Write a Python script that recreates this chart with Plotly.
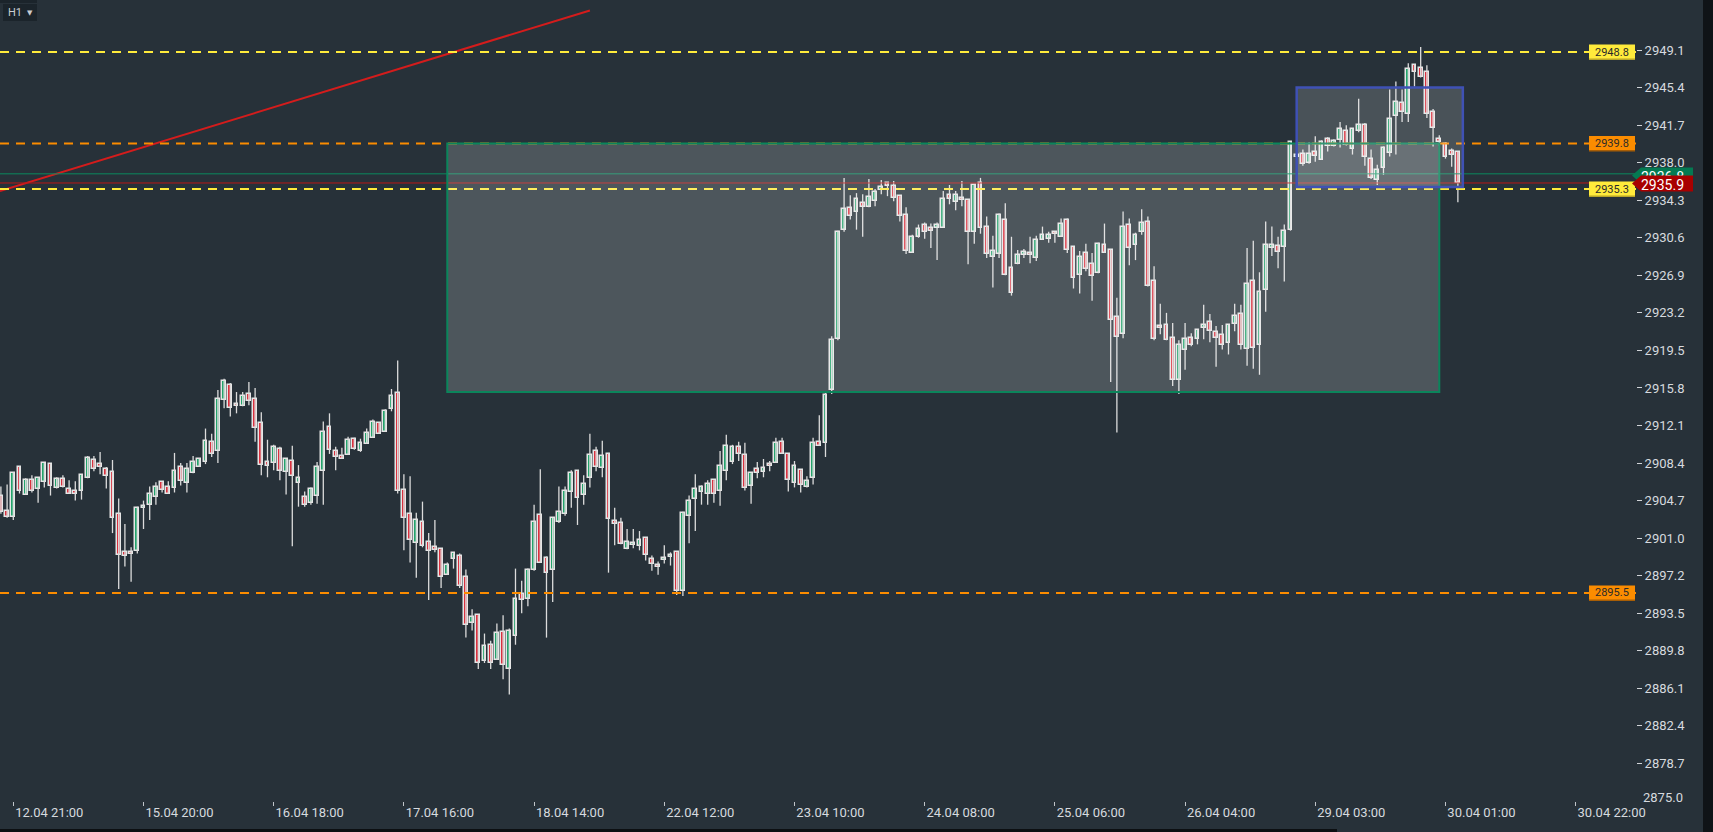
import plotly.graph_objects as go

# ---------------- data (H1 candles) ----------------
OPEN = [2905.1,2903.6,2903.0,2907.9,2905.2,2906.6,2905.7,2906.4,2908.2,2905.8,
        2906.7,2905.7,2905.5,2905.5,2906.8,2908.6,2908.2,2907.7,2907.4,2903.3,
        2899.5,2899.5,2899.6,2903.9,2904.2,2905.0,2906.4,2905.9,2905.8,2907.9,
        2906.3,2907.3,2907.9,2908.4,2910.4,2909.5,2914.5,2916.0,2914.1,2913.9,
        2915.1,2914.6,2912.2,2908.4,2908.3,2909.7,2907.4,2908.5,2906.3,2905.0,
        2904.4,2905.1,2907.5,2911.9,2909.5,2909.0,2909.1,2910.7,2909.5,2910.2,
        2910.8,2912.2,2911.4,2913.6,2915.2,2905.6,2903.3,2900.4,2902.5,2900.5,
        2900.0,2899.8,2897.3,2898.8,2899.1,2897.1,2892.5,2893.3,2888.8,2890.4,
        2888.9,2891.7,2888.0,2891.3,2895.4,2894.9,2897.8,2903.2,2898.9,2897.8,
        2902.5,2903.3,2905.4,2907.5,2905.2,2906.8,2909.5,2907.8,2909.2,2902.6,
        2902.4,2899.8,2900.2,2900.1,2900.9,2898.8,2898.3,2898.7,2899.0,2899.5,
        2895.7,2903.1,2904.8,2905.4,2905.3,2906.6,2905.5,2907.5,2908.4,2909.9,
        2909.1,2906.0,2907.7,2907.4,2908.2,2908.3,2910.4,2909.2,2906.3,2907.6,
        2905.9,2906.8,2910.4,2910.3,2915.5,2920.5,2931.3,2933.4,2933.0,2933.9,
        2933.5,2934.1,2935.2,2935.9,2935.6,2934.6,2932.7,2929.0,2930.6,2931.8,
        2931.5,2931.5,2931.5,2934.7,2934.0,2934.4,2934.2,2931.1,2935.9,2931.6,
        2928.6,2928.9,2932.3,2927.5,2927.9,2928.8,2929.0,2928.5,2930.3,2930.4,
        2931.1,2930.6,2932.3,2929.6,2926.8,2929.0,2927.9,2927.0,2929.8,2929.3,
        2922.7,2921.0,2931.8,2929.8,2931.1,2932.1,2926.2,2921.8,2921.9,2920.6,
        2916.5,2919.4,2920.6,2920.5,2921.6,2922.2,2921.2,2920.9,2920.1,2922.0,
        2923.0,2919.5,2926.2,2919.9,2925.4,2929.5,2929.7,2929.6,2931.3,2938.5,
        2938.8,2937.9,2939.0,2938.2,2940.2,2939.5,2940.1,2941.0,2939.2,2941.0,
        2941.6,2938.3,2936.2,2937.4,2938.9,2942.5,2943.8,2942.7,2947.5,2947.2,
        2946.8,2942.9,2940.2,2939.7,2939.1,2939.0]
HIGH = [2906.0,2906.2,2907.4,2908.0,2906.8,2907.1,2906.8,2908.3,2908.2,2906.9,
        2907.1,2906.6,2906.5,2907.1,2909.0,2909.0,2909.4,2907.9,2908.6,2904.8,
        2902.3,2900.0,2904.0,2904.6,2906.0,2906.4,2906.4,2906.5,2909.3,2908.3,
        2908.3,2909.0,2908.8,2911.7,2911.2,2915.5,2916.6,2916.2,2915.3,2915.3,
        2916.3,2915.7,2913.3,2910.6,2910.1,2909.9,2908.7,2910.0,2908.1,2905.5,
        2905.9,2908.4,2912.4,2913.2,2909.9,2909.8,2910.9,2910.8,2910.7,2911.7,
        2912.6,2912.3,2913.6,2915.6,2918.4,2907.2,2907.0,2903.4,2904.5,2901.4,
        2902.7,2899.8,2898.5,2899.4,2899.4,2897.8,2893.9,2893.3,2891.5,2890.8,
        2892.5,2893.3,2892.0,2897.9,2896.7,2897.9,2904.2,2907.7,2899.1,2902.9,
        2906.0,2906.0,2907.6,2907.5,2907.1,2911.2,2909.9,2910.5,2909.3,2903.9,
        2902.9,2901.8,2901.8,2901.6,2900.9,2899.2,2898.6,2900.2,2899.5,2899.5,
        2903.5,2905.1,2907.2,2906.1,2906.6,2906.6,2909.5,2911.1,2910.1,2910.4,
        2910.3,2907.3,2908.4,2908.7,2908.5,2910.8,2910.8,2909.2,2908.5,2907.6,
        2907.0,2910.8,2913.0,2915.2,2920.8,2931.2,2936.4,2934.7,2934.9,2934.8,
        2936.3,2935.3,2936.2,2935.9,2936.1,2934.6,2933.5,2930.8,2931.8,2932.0,
        2931.9,2932.0,2935.1,2935.7,2935.1,2936.1,2934.2,2935.7,2936.4,2932.6,
        2930.7,2932.9,2933.9,2930.6,2929.3,2929.4,2930.6,2930.7,2931.6,2931.1,
        2931.1,2932.4,2932.4,2929.6,2929.2,2929.9,2929.0,2930.0,2931.9,2929.4,
        2924.6,2933.1,2932.4,2931.0,2933.3,2932.6,2927.7,2924.0,2923.1,2922.1,
        2920.4,2922.1,2921.1,2921.4,2923.9,2923.0,2921.8,2921.9,2921.9,2924.0,
        2923.9,2929.5,2930.2,2927.1,2932.1,2931.6,2930.6,2931.8,2939.9,2938.9,
        2939.2,2939.9,2940.5,2940.1,2940.4,2940.2,2941.9,2941.6,2941.2,2944.2,
        2941.8,2939.2,2937.7,2939.5,2945.1,2945.9,2945.1,2947.7,2947.6,2949.3,
        2947.5,2943.2,2940.6,2939.9,2939.3,2939.0]
LOW = [2903.3,2902.9,2902.7,2905.3,2905.2,2905.4,2904.4,2905.9,2905.1,2905.8,
       2905.9,2905.3,2904.6,2904.7,2906.8,2907.5,2907.2,2905.8,2901.4,2895.9,
       2898.1,2896.6,2899.4,2901.8,2902.7,2904.2,2905.4,2905.3,2905.4,2906.1,
       2905.4,2907.3,2907.9,2908.2,2908.9,2908.3,2913.7,2912.9,2913.2,2913.9,
       2914.0,2910.4,2907.1,2906.9,2907.6,2906.6,2905.2,2900.1,2904.0,2904.0,
       2904.2,2904.3,2904.2,2909.2,2907.6,2908.7,2909.1,2909.6,2909.4,2910.2,
       2910.8,2911.2,2911.4,2913.4,2905.3,2899.7,2898.5,2897.0,2900.0,2894.8,
       2899.5,2896.0,2897.3,2897.9,2896.0,2891.1,2891.8,2888.0,2888.6,2888.0,
       2888.9,2887.0,2885.5,2890.4,2893.5,2894.2,2897.7,2898.5,2891.1,2894.6,
       2902.4,2903.1,2903.9,2902.2,2904.2,2905.9,2907.5,2906.9,2897.5,2900.2,
       2900.3,2899.8,2899.9,2899.7,2898.7,2897.7,2897.3,2898.4,2898.2,2895.3,
       2895.2,2900.4,2901.6,2904.2,2904.2,2904.4,2904.1,2906.6,2908.2,2908.5,
       2905.6,2904.3,2906.8,2906.9,2907.5,2908.3,2909.2,2905.5,2905.9,2905.4,
       2905.9,2906.2,2910.0,2908.9,2915.1,2920.4,2931.1,2932.3,2931.3,2930.6,
       2933.5,2933.6,2934.8,2934.6,2934.1,2932.1,2928.9,2929.0,2930.5,2930.4,
       2929.5,2928.3,2931.5,2933.8,2933.2,2933.6,2927.9,2929.9,2930.9,2928.5,
       2925.6,2928.5,2926.8,2924.8,2927.9,2928.5,2928.0,2928.2,2930.3,2930.0,
       2930.0,2930.6,2929.0,2925.5,2925.0,2927.2,2924.3,2927.0,2929.0,2916.3,
       2911.3,2920.6,2927.8,2928.3,2930.8,2925.7,2920.4,2921.0,2920.4,2915.9,
       2915.1,2917.5,2919.8,2920.0,2920.5,2920.2,2917.8,2919.5,2919.0,2921.3,
       2919.5,2917.9,2917.6,2917.0,2923.2,2928.7,2927.5,2926.2,2931.2,2938.4,
       2937.6,2937.8,2938.0,2938.2,2939.0,2939.5,2939.4,2939.6,2938.7,2940.9,
       2937.6,2936.3,2935.7,2936.7,2938.5,2938.7,2941.9,2941.9,2945.4,2946.3,
       2942.3,2939.5,2939.6,2938.3,2937.5,2934.0]
CLOSE = [2903.5,2903.0,2907.3,2905.5,2906.6,2905.5,2906.8,2908.3,2906.0,2906.7,
         2905.9,2905.3,2905.3,2907.1,2908.8,2907.7,2907.9,2907.0,2902.9,2899.2,
         2899.1,2899.3,2903.9,2904.1,2905.3,2905.9,2905.6,2905.3,2907.5,2906.5,
         2907.7,2908.4,2908.7,2910.5,2909.2,2914.6,2916.4,2913.7,2913.9,2914.9,
         2914.4,2911.8,2908.1,2908.0,2909.9,2907.5,2908.7,2907.0,2906.8,2904.2,
         2905.7,2907.9,2911.4,2909.6,2908.9,2908.7,2910.6,2909.7,2910.3,2911.3,
         2912.3,2911.2,2913.4,2914.9,2905.5,2902.9,2900.7,2902.7,2900.1,2899.6,
         2899.7,2897.1,2898.3,2899.4,2896.2,2892.3,2893.1,2888.6,2890.3,2888.6,
         2891.6,2888.4,2891.8,2894.9,2894.8,2897.8,2902.5,2898.5,2897.5,2902.9,
         2903.5,2905.5,2907.3,2904.9,2906.2,2909.1,2907.9,2909.0,2902.8,2902.3,
         2900.3,2900.5,2900.4,2900.7,2899.2,2898.4,2898.1,2898.9,2899.2,2895.7,
         2903.4,2904.6,2905.7,2905.9,2906.2,2905.3,2908.0,2910.0,2909.9,2909.2,
         2905.8,2907.3,2907.3,2907.8,2908.0,2910.3,2909.2,2906.6,2908.0,2906.1,
         2906.5,2910.3,2910.0,2915.0,2920.4,2931.1,2933.3,2932.6,2934.3,2933.5,
         2934.5,2935.0,2935.5,2935.6,2934.4,2932.6,2929.2,2930.6,2931.4,2931.1,
         2931.2,2931.8,2934.3,2934.3,2934.7,2934.2,2931.1,2935.7,2931.5,2928.9,
         2929.2,2932.7,2926.8,2925.1,2928.8,2929.1,2928.8,2930.3,2930.8,2930.8,
         2930.9,2931.9,2929.3,2926.5,2928.6,2927.4,2926.7,2929.9,2929.0,2922.4,
         2920.7,2931.6,2929.5,2930.8,2932.0,2925.7,2920.5,2921.6,2920.4,2916.5,
         2919.9,2920.5,2919.9,2921.4,2921.9,2921.3,2920.6,2919.9,2921.9,2922.8,
         2919.9,2925.9,2919.6,2925.2,2929.8,2929.8,2929.1,2931.2,2939.9,2938.7,
         2937.8,2938.8,2938.6,2939.9,2939.5,2940.0,2941.2,2939.6,2941.2,2941.6,
         2938.5,2936.4,2937.2,2939.3,2942.2,2943.9,2942.9,2947.1,2946.8,2946.3,
         2942.7,2941.3,2939.9,2938.5,2938.7,2935.9]

X_TICK_POS = [2, 23, 44, 65, 86, 107, 128, 149, 170, 191, 212, 233, 254]
X_TICK_TEXT = ["12.04 21:00", "15.04 20:00", "16.04 18:00", "17.04 16:00",
               "18.04 14:00", "22.04 12:00", "23.04 10:00", "24.04 08:00",
               "25.04 06:00", "26.04 04:00", "29.04 03:00", "30.04 01:00",
               "30.04 22:00"]
Y_TICKS = [2878.7, 2882.4, 2886.1, 2889.8, 2893.5, 2897.2, 2900.9, 2904.6,
           2908.3, 2912.0, 2915.7, 2919.4, 2923.1, 2926.8, 2930.5, 2934.2,
           2937.9, 2941.6, 2945.3, 2949.0]
Y_TICK_TEXT = ["2878.7", "2882.4", "2886.1", "2889.8", "2893.5", "2897.2",
               "2901.0", "2904.7", "2908.4", "2912.1", "2915.8", "2919.5",
               "2923.2", "2926.9", "2930.6", "2934.3", "2938.0", "2941.7",
               "2945.4", "2949.1"]
Y_MIN, Y_MAX = 2875.0, 2953.93

YELLOW_LEVELS = [2948.8, 2935.3]
ORANGE_LEVELS = [2939.8, 2895.5]
ASK_PRICE = 2936.8
BID_PRICE = 2935.9

ZONE_GREEN = dict(x0=72, x1=232, y0=2915.3, y1=2939.8)
ZONE_BLUE = dict(x0=209, x1=235.8, y0=2935.5, y1=2945.3)
TREND_X = [-0.15, 95.0]
TREND_Y = [2935.1, 2952.9]

# ---------------- style ----------------
BG = "#273139"
GREEN = "#22a36b"
RED = "#d9303e"
OUTLINE = "#e6e6e6"
YELLOW = "#ffeb3b"
ORANGE = "#fb8c00"
TXT = "#d6dadf"
FONT = "Roboto"

W, H = 1713, 832
ML, MR, MT, MB = 0, 77, 0, 31
PW, PH = W - ML - MR, H - MT - MB


def xp(px):
    return px / PW


def yp(py):
    return 1 - py / PH


idx = list(range(len(OPEN)))

fig = go.Figure()

# wicks
wx, wy = [], []
for i in idx:
    wx += [i, i, None]
    wy += [LOW[i], HIGH[i], None]
fig.add_trace(go.Scatter(x=wx, y=wy, mode="lines",
                         line=dict(color="#dcdcdc", width=1.3),
                         hoverinfo="skip", showlegend=False))

# bodies
bases = [min(o, c) for o, c in zip(OPEN, CLOSE)]
heights = [max(abs(c - o), 0.05) for o, c in zip(OPEN, CLOSE)]
colors = [GREEN if c >= o else RED for o, c in zip(OPEN, CLOSE)]
fig.add_trace(go.Bar(x=idx, y=heights, base=bases, width=0.6,
                     marker=dict(color=colors, line=dict(color=OUTLINE, width=1.5)),
                     hoverinfo="skip", showlegend=False))

# trend line
fig.add_trace(go.Scatter(x=TREND_X, y=TREND_Y, mode="lines",
                         line=dict(color="#d41c1c", width=2),
                         hoverinfo="skip", showlegend=False, cliponaxis=True))

shapes = []
annotations = []
DASH = "9px,7px"
for v in ORANGE_LEVELS:
    shapes.append(dict(type="line", xref="paper", x0=0, x1=1, yref="y", y0=v, y1=v,
                       line=dict(color=ORANGE, width=2, dash=DASH)))
for v in YELLOW_LEVELS:
    shapes.append(dict(type="line", xref="paper", x0=0, x1=1, yref="y", y0=v, y1=v,
                       line=dict(color=YELLOW, width=2, dash=DASH)))
shapes.append(dict(type="line", xref="paper", x0=0, x1=1, yref="y", y0=ASK_PRICE, y1=ASK_PRICE,
                   line=dict(color="#0b8a5e", width=1)))
shapes.append(dict(type="line", xref="paper", x0=0, x1=1, yref="y", y0=BID_PRICE, y1=BID_PRICE,
                   line=dict(color="#b81818", width=1)))

# zones
shapes.append(dict(type="rect", xref="x", yref="y", **ZONE_GREEN,
                   fillcolor="rgba(255,255,255,0.18)",
                   line=dict(color="#0b855b", width=2)))
shapes.append(dict(type="rect", xref="x", yref="y", **ZONE_BLUE,
                   fillcolor="rgba(255,255,255,0.16)",
                   line=dict(color="#3f51b5", width=2.5)))

# level labels on the right edge
for v, col, dark in [(YELLOW_LEVELS[0], YELLOW, "#b9a628"), (ORANGE_LEVELS[0], ORANGE, "#a85e06"),
                     (YELLOW_LEVELS[1], YELLOW, "#b9a628"), (ORANGE_LEVELS[1], ORANGE, "#a85e06")]:
    shapes.append(dict(type="rect", xref="paper", x0=xp(1589), x1=xp(1635),
                       yref="y", ysizemode="pixel", yanchor=v, y0=-7.5, y1=7.5,
                       fillcolor=col, line=dict(width=0)))
    shapes.append(dict(type="rect", xref="paper", x0=xp(1589), x1=xp(1635),
                       yref="y", ysizemode="pixel", yanchor=v, y0=-8, y1=-6.5,
                       fillcolor=dark, line=dict(width=0)))
    annotations.append(dict(text=f"{v:.1f}", xref="paper", x=xp(1612), xanchor="center",
                            yref="y", y=v, yanchor="middle", showarrow=False,
                            font=dict(family=FONT, size=11, color="#2a2a2a")))

# price tags (ask under bid)
def tag(py, color, text):
    top, bot = py - 8, py + 8
    path = (f"M {xp(1632)},{yp(py)} L {xp(1641)},{yp(top)} L {xp(1693)},{yp(top)} "
            f"L {xp(1693)},{yp(bot)} L {xp(1641)},{yp(bot)} Z")
    return dict(type="path", xref="paper", yref="paper", path=path,
                fillcolor=color, line=dict(width=0),
                label=dict(text=text, textposition="middle center",
                           font=dict(family=FONT, size=14, color="#ffffff")))

shapes.append(tag(175.5, "#047a52", f"{ASK_PRICE:.1f}"))
shapes.append(tag(183.5, "#a80000", f"{BID_PRICE:.1f}"))

# chrome: right strip, bottom scrollbar, timeframe button
shapes.append(dict(type="rect", xref="paper", yref="paper", x0=xp(1703), x1=xp(1716),
                   y0=yp(-5), y1=yp(840), fillcolor="#0f1317", line=dict(width=0)))
shapes.append(dict(type="rect", xref="paper", yref="paper", x0=xp(0), x1=xp(1337),
                   y0=yp(829), y1=yp(840), fillcolor="#0c0f12", line=dict(width=0)))
shapes.append(dict(type="rect", xref="paper", yref="paper", x0=xp(3), x1=xp(37),
                   y0=yp(4), y1=yp(21), fillcolor="#1b242b", line=dict(width=0)))
shapes.append(dict(type="rect", xref="paper", yref="paper", x0=xp(0), x1=xp(37),
                   y0=yp(-2), y1=yp(3), fillcolor="#1b242b", line=dict(width=0)))

annotations += [
    dict(text="H1", xref="paper", yref="paper", x=xp(6), y=yp(12.5), xanchor="left",
         yanchor="middle", showarrow=False, font=dict(family=FONT, size=11, color="#c9cdd1")),
    dict(text="▼", xref="paper", yref="paper", x=xp(30), y=yp(12.5), xanchor="center",
         yanchor="middle", showarrow=False, font=dict(family="DejaVu Sans", size=7, color="#c9cdd1")),
    dict(text="2875.0", xref="paper", yref="paper", x=xp(1641), y=yp(797), xanchor="left",
         yanchor="middle", showarrow=False, font=dict(family=FONT, size=13, color=TXT)),
]

fig.update_layout(
    width=W, height=H,
    margin=dict(l=ML, r=MR, t=MT, b=MB, pad=0),
    paper_bgcolor=BG, plot_bgcolor=BG,
    showlegend=False, bargap=0,
    shapes=shapes, annotations=annotations,
    xaxis=dict(range=[-0.145, 263.73], tickmode="array", tickvals=X_TICK_POS,
               ticktext=X_TICK_TEXT, showgrid=False, zeroline=False, showline=False,
               ticks="outside", ticklen=4, tickwidth=1, tickcolor="#bfc4c9",
               tickfont=dict(family=FONT, size=13, color=TXT),
               ticklabelshift=36, ticklabelstandoff=-5, fixedrange=True),
    yaxis=dict(range=[Y_MIN, Y_MAX], side="right", tickmode="array", tickvals=Y_TICKS,
               ticktext=Y_TICK_TEXT, showgrid=False, zeroline=False, showline=False,
               ticks="outside", ticklen=5, tickwidth=1, tickcolor="#d0d4d8",
               tickfont=dict(family=FONT, size=13, color=TXT), fixedrange=True),
)

fig.write_html("out.html", config={"displayModeBar": False},
               post_script="document.body.style.margin='0';document.body.style.overflow='hidden';")
